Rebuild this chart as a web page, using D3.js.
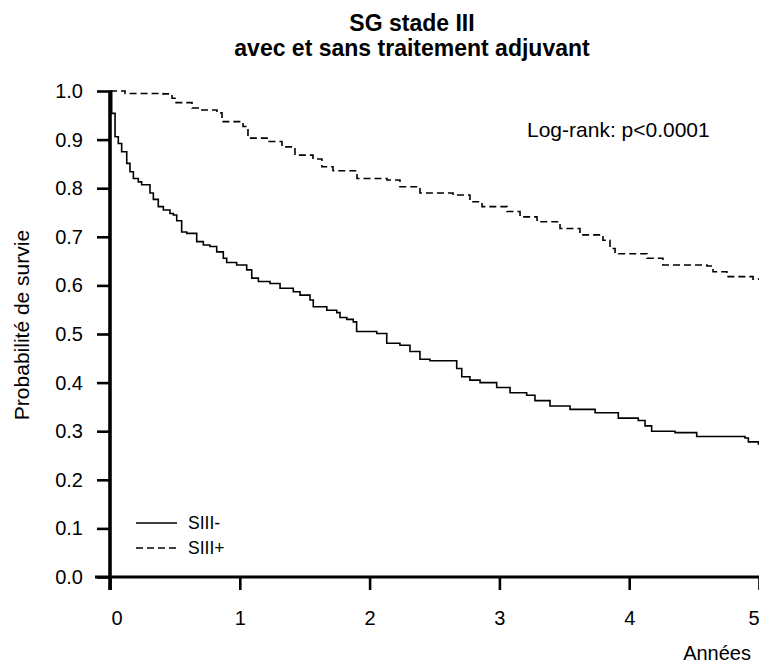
<!DOCTYPE html>
<html>
<head>
<meta charset="utf-8">
<script src="https://cdn.jsdelivr.net/npm/d3@7"></script>
<style>
    body { margin: 0; background: #fff; }
    svg text { font-family: "Liberation Sans", Arial, sans-serif; fill: #000; }
</style>
</head>
<body>
<svg id="km-svg" width="759" height="664"></svg>
<script>
// Kaplan-Meier curves (time in years, survival probability)
let siii_minus_t = [0, 0.013, 0.039, 0.064, 0.090, 0.129, 0.154, 0.180, 0.218, 0.244, 0.308, 0.334, 0.372, 0.411,
    0.462, 0.488, 0.514, 0.552, 0.591, 0.668, 0.719, 0.770, 0.822, 0.873, 0.899, 0.976, 1.053, 1.092, 1.143,
    1.233, 1.310, 1.412, 1.464, 1.541, 1.566, 1.670, 1.747, 1.772, 1.824, 1.874, 1.900, 2.055, 2.132, 2.234,
    2.311, 2.388, 2.465, 2.671, 2.710, 2.773, 2.851, 2.979, 3.082, 3.210, 3.274, 3.390, 3.544, 3.737, 3.916,
    4.070, 4.122, 4.173, 4.353, 4.520, 4.892, 4.918, 4.995, 5];
let siii_minus_s = [1.0, 0.954, 0.906, 0.892, 0.875, 0.851, 0.834, 0.820, 0.813, 0.807, 0.790, 0.777, 0.762, 0.755,
    0.748, 0.745, 0.733, 0.710, 0.707, 0.690, 0.683, 0.680, 0.669, 0.656, 0.647, 0.642, 0.632, 0.615, 0.608,
    0.604, 0.594, 0.587, 0.580, 0.570, 0.556, 0.549, 0.544, 0.534, 0.530, 0.525, 0.505, 0.501, 0.481, 0.477,
    0.464, 0.448, 0.445, 0.429, 0.412, 0.405, 0.400, 0.390, 0.379, 0.374, 0.363, 0.352, 0.345, 0.338, 0.327,
    0.322, 0.311, 0.300, 0.297, 0.289, 0.286, 0.278, 0.274, 0.274];

let siii_plus_t = [0, 0.116, 0.408, 0.478, 0.501, 0.632, 0.693, 0.824, 0.863, 1.025, 1.063, 1.210, 1.325, 1.425,
    1.564, 1.633, 1.718, 1.903, 2.134, 2.234, 2.388, 2.643, 2.773, 2.866, 3.059, 3.159, 3.290, 3.467, 3.621,
    3.798, 3.852, 3.891, 4.137, 4.260, 4.599, 4.646, 4.753, 4.954, 5];
let siii_plus_s = [1.0, 0.995, 0.994, 0.985, 0.976, 0.965, 0.961, 0.955, 0.937, 0.927, 0.903, 0.896, 0.885, 0.868,
    0.860, 0.844, 0.836, 0.820, 0.817, 0.803, 0.790, 0.786, 0.772, 0.762, 0.752, 0.741, 0.731, 0.717, 0.704,
    0.693, 0.676, 0.665, 0.656, 0.642, 0.640, 0.628, 0.618, 0.613, 0.611];

let series_names = ['SIII-', 'SIII+'];
let x_ticks = [0, 1, 2, 3, 4, 5];
let y_ticks = [0, 0.1, 0.2, 0.3, 0.4, 0.5, 0.6, 0.7, 0.8, 0.9, 1.0];
let title_lines = ['SG stade III', 'avec et sans traitement adjuvant'];

let svg = d3.select('#km-svg');

let x = d3.scaleLinear().domain([0, 5]).range([110, 759]);
let y = d3.scaleLinear().domain([0, 1]).range([577, 91]);

// Title
svg.append('g')
    .selectAll('text')
    .data(title_lines)
    .join('text')
    .attr('x', 412)
    .attr('y', (d, i) => 31 + i * 25)
    .attr('text-anchor', 'middle')
    .attr('font-weight', 'bold')
    .attr('font-size', 23)
    .text(d => d);

// Y axis
let y_axis = svg.append('g')
    .attr('transform', 'translate(' + x(0) + ',0)')
    .call(d3.axisLeft(y).tickValues(y_ticks).tickFormat(d3.format('.1f')).tickSize(13).tickPadding(14));
y_axis.select('.domain').remove();
y_axis.selectAll('.tick line').attr('stroke', '#000').attr('stroke-width', 2.6);
y_axis.selectAll('.tick text').attr('font-size', 20).attr('font-family', '"Liberation Sans", Arial, sans-serif');
y_axis.append('line')
    .attr('x1', 0).attr('x2', 0)
    .attr('y1', y(1)).attr('y2', y(0) + 13)
    .attr('stroke', '#000').attr('stroke-width', 3.6);

// X axis
let x_axis = svg.append('g')
    .attr('transform', 'translate(0,' + y(0) + ')')
    .call(d3.axisBottom(x).tickValues(x_ticks).tickFormat(d3.format('d')).tickSize(13).tickPadding(21));
x_axis.select('.domain').remove();
x_axis.selectAll('.tick line').attr('stroke', '#000').attr('stroke-width', 2.6);
x_axis.selectAll('.tick text')
    .attr('font-size', 20)
    .attr('font-family', '"Liberation Sans", Arial, sans-serif')
    .attr('text-anchor', (d, i) => i === 0 ? 'start' : (i === x_ticks.length - 1 ? 'end' : 'middle'))
    .attr('dx', (d, i) => i === 0 ? 1 : 0);
x_axis.append('line')
    .attr('x1', x(0) - 15).attr('x2', x(5))
    .attr('y1', 0).attr('y2', 0)
    .attr('stroke', '#000').attr('stroke-width', 3);

// Axis titles
svg.append('text')
    .attr('x', 751)
    .attr('y', 660)
    .attr('text-anchor', 'end')
    .attr('font-size', 20)
    .text('Années');

svg.append('text')
    .attr('transform', 'translate(29,325) rotate(-90)')
    .attr('text-anchor', 'middle')
    .attr('font-size', 21)
    .text('Probabilité de survie');

svg.append('text')
    .attr('x', 527)
    .attr('y', 137)
    .attr('font-size', 21)
    .text('Log-rank: p<0.0001');

// Survival curves, drawn as steps
let step_line = d3.line()
    .x(d => x(d[0]))
    .y(d => y(d[1]))
    .curve(d3.curveStepAfter);

let curves = [
    {name: series_names[0], pts: d3.zip(siii_minus_t, siii_minus_s), dash: null},
    {name: series_names[1], pts: d3.zip(siii_plus_t, siii_plus_s), dash: '7,4'}
];

svg.append('g')
    .selectAll('path')
    .data(curves)
    .join('path')
    .attr('d', d => step_line(d.pts))
    .attr('fill', 'none')
    .attr('stroke', '#000')
    .attr('stroke-width', 1.6)
    .attr('stroke-dasharray', d => d.dash);

// Legend
let legend = svg.append('g')
    .selectAll('g')
    .data(curves)
    .join('g')
    .attr('transform', (d, i) => 'translate(136,' + (523 + i * 25) + ')');

legend.append('line')
    .attr('x1', 0).attr('x2', 41)
    .attr('stroke', '#000')
    .attr('stroke-width', 1.4)
    .attr('stroke-dasharray', d => d.dash);

legend.append('text')
    .attr('x', 52)
    .attr('y', 6)
    .attr('font-size', 17.5)
    .text(d => d.name);
</script>
</body>
</html>
